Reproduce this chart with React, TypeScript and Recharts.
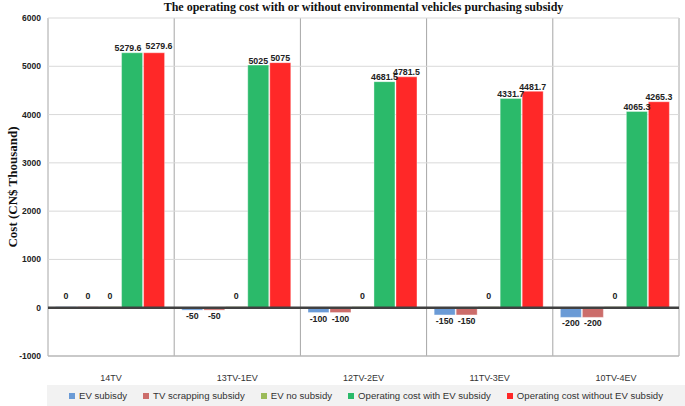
import React from "react";
import {
  Bar,
  BarChart,
  CartesianGrid,
  LabelList,
  Legend,
  ReferenceLine,
  XAxis,
  YAxis,
} from "recharts";

const categories = ["14TV", "13TV-1EV", "12TV-2EV", "11TV-3EV", "10TV-4EV"];
const evSubsidy = [0, -50, -100, -150, -200];
const tvScrapping = [0, -50, -100, -150, -200];
const evNoSubsidy = [0, 0, 0, 0, 0];
const withSubsidy = [5279.6, 5025, 4681.5, 4331.7, 4065.3];
const withoutSubsidy = [5279.6, 5075, 4781.5, 4481.7, 4265.3];
const yTicks = [-1000, 0, 1000, 2000, 3000, 4000, 5000, 6000];

const series = [
  { key: "evSub", name: "EV subisdy", color: "#6b9bd6" },
  { key: "tvScrap", name: "TV scrapping subsidy", color: "#cc6d6b" },
  { key: "evNo", name: "EV no subsidy", color: "#9bbb59" },
  { key: "withSub", name: "Operating cost with EV subsidy", color: "#2bba6a" },
  { key: "withoutSub", name: "Operating cost without EV subsidy", color: "#ff2828" },
];

const rows = categories.map((c, i) => ({
  cat: c,
  evSub: evSubsidy[i],
  tvScrap: tvScrapping[i],
  evNo: evNoSubsidy[i],
  withSub: withSubsidy[i],
  withoutSub: withoutSubsidy[i],
}));

const SANS = "'Liberation Sans', Arial, sans-serif";
const SERIF = "'Liberation Serif', 'Times New Roman', serif";

function BarLabel(props: any) {
  const { x, y, width, height, value, index, seriesKey } = props;
  let cx = x + width / 2;
  const top = Math.min(y, y + height);
  const bottom = Math.max(y, y + height);
  let ty = top - 1.5;
  if (value < 0) ty = bottom + 9;
  else if (value === 0) ty = bottom - 8.5;
  // Excel pushes equal-height neighbour labels apart
  if (withSubsidy[index] === withoutSubsidy[index]) {
    if (seriesKey === "withSub") cx -= 4;
    if (seriesKey === "withoutSub") {
      cx += 5;
      ty -= 2;
    }
  }
  return (
    <text x={cx} y={ty} textAnchor="middle" fontSize={8.8} fontWeight="bold" fontFamily={SANS} fill="#222">
      {value}
    </text>
  );
}

function LegendBox() {
  return (
    <div
      style={{
        height: 21,
        background: "#f2f2f2",
        display: "flex",
        alignItems: "center",
        justifyContent: "center",
        gap: 16,
        fontFamily: SANS,
        fontSize: 9.6,
        color: "#333",
      }}
    >
      {series.map((it) => (
        <span key={it.key} style={{ display: "flex", alignItems: "center" }}>
          <span style={{ width: 6, height: 6, background: it.color, marginRight: 4, display: "inline-block" }} />
          {it.name}
        </span>
      ))}
    </div>
  );
}

// vertical lines on the category boundaries, not the band centres
const boundaryLines = ({ offset }: any) =>
  categories.concat([""]).map((_, i) => offset.left + (i * offset.width) / categories.length);

export default function App() {
  return (
    <div style={{ position: "absolute", left: 0, top: 0, width: 685, height: 406, background: "#fff" }}>
      <div
        style={{
          position: "absolute",
          left: 48,
          width: 631,
          top: 0,
          textAlign: "center",
          fontFamily: SERIF,
          fontWeight: "bold",
          fontSize: 12,
          lineHeight: "14px",
          color: "#111",
        }}
      >
        The operating cost with or without environmental vehicles purchasing subsidy
      </div>
      <BarChart
        width={685}
        height={406}
        data={rows}
        margin={{ top: 18, right: 6, bottom: 0, left: 0 }}
        barCategoryGap="6%"
        barGap={1}
      >
        <CartesianGrid horizontal={false} stroke="#a6a6a6" verticalCoordinatesGenerator={boundaryLines} />
        <CartesianGrid vertical={false} stroke="#d9d9d9" />
        <XAxis
          dataKey="cat"
          height={29}
          tickLine={false}
          tickSize={0}
          tickMargin={19}
          axisLine={{ stroke: "#a6a6a6" }}
          tick={{ fontSize: 9, fontFamily: SANS, fill: "#333" }}
        />
        <YAxis
          width={48}
          domain={[-1000, 6000]}
          ticks={yTicks}
          interval={0}
          tickLine={false}
          tickSize={0}
          tickMargin={7}
          axisLine={false}
          tick={{ fontSize: 8.5, fontWeight: "bold", fontFamily: SANS, fill: "#222" }}
          label={({ viewBox }: any) => (
            <text
              x={viewBox.x + 14}
              y={viewBox.y + viewBox.height / 2}
              transform={`rotate(-90 ${viewBox.x + 14} ${viewBox.y + viewBox.height / 2})`}
              textAnchor="middle"
              dominantBaseline="middle"
              fontFamily={SERIF}
              fontWeight="bold"
              fontSize={13}
              fill="#111"
            >
              Cost (CN$ Thousand)
            </text>
          )}
        />
        <Legend verticalAlign="bottom" content={<LegendBox />} wrapperStyle={{ left: 47, width: 638, bottom: 0 }} />
        {series.map((s) => (
          <Bar
            key={s.key}
            dataKey={s.key}
            name={s.name}
            fill={s.color}
            stroke="#ffffff"
            strokeOpacity={0.6}
            strokeWidth={0.6}
            minPointSize={1}
            isAnimationActive={false}
          >
            <LabelList dataKey={s.key} content={<BarLabel seriesKey={s.key} />} />
          </Bar>
        ))}
        <ReferenceLine y={0} stroke="#404040" strokeWidth={2.5} />
      </BarChart>
    </div>
  );
}
